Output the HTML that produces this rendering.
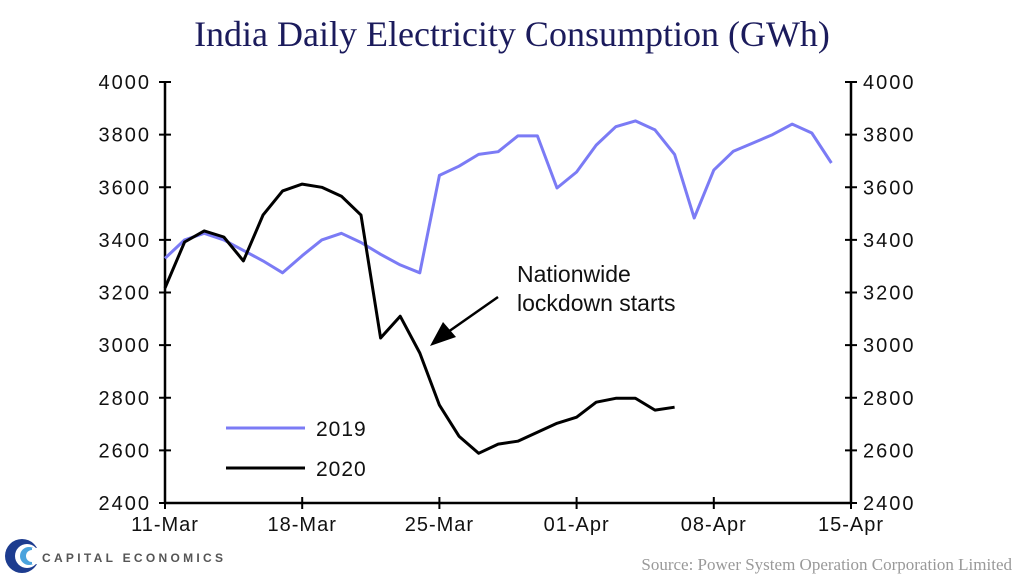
<!DOCTYPE html>
<html><head><meta charset="utf-8"><style>
body{margin:0;background:#fff;width:1024px;height:583px;overflow:hidden}
svg{display:block}
</style></head><body>
<svg id="chart" width="1024" height="583" font-family="'Liberation Sans',sans-serif">
<text x="512" y="46" text-anchor="middle" font-family="'Liberation Serif',serif" font-size="36" fill="#1b1b5c">India Daily Electricity Consumption (GWh)</text>
<g id="axes"></g>
<path id="s2019" fill="none" stroke="#7b7bf5" stroke-width="3" stroke-linejoin="round"/>
<path id="s2020" fill="none" stroke="#000" stroke-width="3" stroke-linejoin="round"/>
<g>
<text x="517" y="282" font-size="23" fill="#111">Nationwide</text>
<text x="517" y="311" font-size="23" fill="#111">lockdown starts</text>
<line x1="498" y1="297" x2="448" y2="332" stroke="#000" stroke-width="2.5"/>
<polygon points="430,346 443,322 456,337" fill="#000"/>
</g>
<g>
<line x1="226" y1="428" x2="305" y2="428" stroke="#7b7bf5" stroke-width="3"/>
<text x="316" y="436" font-size="21" fill="#111" letter-spacing="1">2019</text>
<line x1="226" y1="468" x2="305" y2="468" stroke="#000" stroke-width="3"/>
<text x="316" y="476" font-size="21" fill="#111" letter-spacing="1">2020</text>
</g>
<g>
<circle cx="22" cy="556" r="17" fill="#1d3c8f"/>
<circle cx="27" cy="556" r="12" fill="#fff"/>
<circle cx="29" cy="556" r="9" fill="#4aa3dd"/>
<circle cx="32" cy="556" r="6" fill="#fff"/>
<rect x="32" y="548" width="12" height="16" fill="#fff"/>
<text x="42" y="562" font-size="12" fill="#555" letter-spacing="3.3" font-weight="bold">CAPITAL ECONOMICS</text>
</g>
<text x="1012" y="570" text-anchor="end" font-family="'Liberation Serif',serif" font-size="17" fill="#999">Source: Power System Operation Corporation Limited</text>
</svg>
<script>
const yTicks=[2400,2600,2800,3000,3200,3400,3600,3800,4000];
const xTickLabels=['11-Mar','18-Mar','25-Mar','01-Apr','08-Apr','15-Apr'];
const xTickDays=[0,7,14,21,28,35];
const v2019=[3330,3400,3425,3400,3360,3320,3275,3340,3400,3425,3390,3345,3305,3275,3645,3680,3725,3735,3795,3795,3597,3658,3760,3830,3852,3818,3725,3483,3665,3737,3768,3800,3840,3806,3692];
const v2020=[3217,3392,3434,3411,3320,3494,3586,3612,3600,3566,3494,3027,3110,2970,2772,2654,2589,2624,2635,2669,2703,2726,2783,2798,2798,2753,2764];
const X0=165,X1=851,Y0=503,Y1=82;
const xs=d=>X0+(X1-X0)*d/35;
const ys=v=>Y0-(Y0-Y1)*(v-2400)/1600;
const NS='http://www.w3.org/2000/svg';
const ax=document.getElementById('axes');
function mk(t,a,p){const e=document.createElementNS(NS,t);for(const k in a)e.setAttribute(k,a[k]);(p||ax).appendChild(e);return e;}
let e;
e=mk('line',{x1:X0,y1:Y1,x2:X0,y2:Y0,stroke:'#000','stroke-width':2.5});


e=mk('line',{x1:X1,y1:Y1,x2:X1,y2:Y0,stroke:'#000','stroke-width':2.5});


e=mk('line',{x1:X0,y1:Y0,x2:X1,y2:Y0,stroke:'#000','stroke-width':2.5});


yTicks.forEach(v=>{const y=ys(v);
mk('line',{x1:X0-6,y1:y,x2:X0+6,y2:y,stroke:'#000','stroke-width':2});
mk('line',{x1:X1-6,y1:y,x2:X1+6,y2:y,stroke:'#000','stroke-width':2});
let t=mk('text',{x:X0-14,y:y+7,'text-anchor':'end','font-size':20,fill:'#111','letter-spacing':2});t.textContent=v;


t=mk('text',{x:X1+12,y:y+7,'font-size':20,fill:'#111','letter-spacing':2});t.textContent=v;


});
xTickDays.forEach((d,i)=>{const x=xs(d);
mk('line',{x1:x,y1:Y0-6,x2:x,y2:Y0+6,stroke:'#000','stroke-width':2});
const t=mk('text',{x:x,y:Y0+28,'text-anchor':'middle','font-size':20,fill:'#111','letter-spacing':1});t.textContent=xTickLabels[i];


});
const path=a=>a.map((v,i)=>(i?'L':'M')+xs(i).toFixed(1)+','+ys(v).toFixed(1)).join('');
document.getElementById('s2019').setAttribute('d',path(v2019));
document.getElementById('s2020').setAttribute('d',path(v2020));
</script>
</body></html>
